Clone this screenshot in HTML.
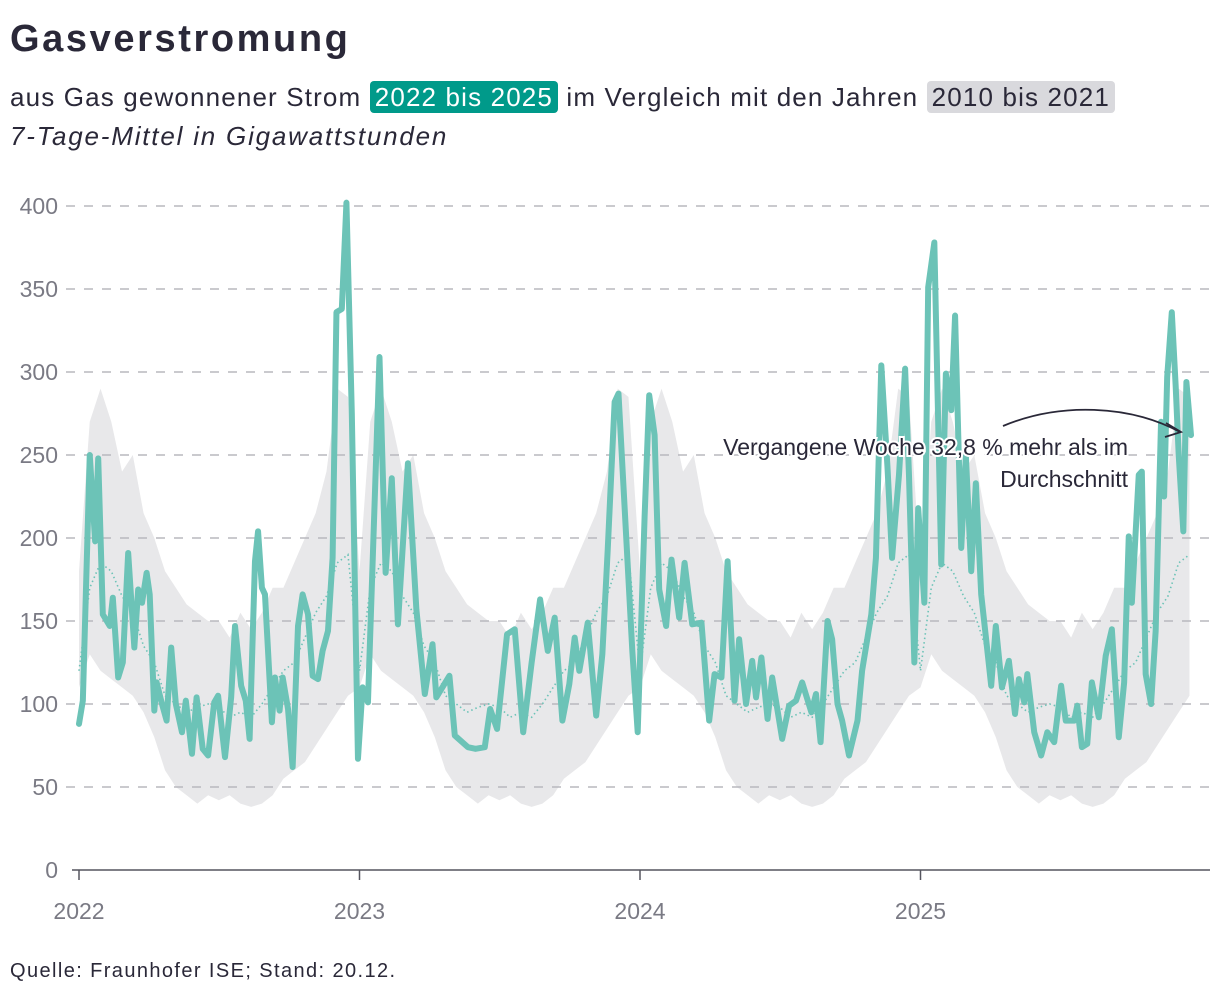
<!DOCTYPE html>
<html><head><meta charset="utf-8">
<style>
body{margin:0;background:#fff;width:1220px;height:1000px;overflow:hidden;font-family:"Liberation Sans",sans-serif;color:#2a2838}
#title{position:absolute;left:10px;top:18px;font-size:38px;font-weight:bold;letter-spacing:2.6px}
#sub{position:absolute;left:10px;top:82px;font-size:26px;letter-spacing:1.15px;white-space:nowrap}
.hl{padding:1px 5px;border-radius:4px}
.teal{background:#009a8a;color:#fff}
.gray{background:#d9d9dd}
#unit{position:absolute;left:10px;top:121px;font-size:26px;font-style:italic;letter-spacing:1.8px}
#foot{position:absolute;left:10px;top:960px;font-size:20px;letter-spacing:1.4px}
svg{position:absolute;left:0;top:0}
</style></head><body>
<div id="title">Gasverstromung</div>
<div id="sub">aus Gas gewonnener Strom <span class="hl teal">2022 bis 2025</span> im Vergleich mit den Jahren <span class="hl gray">2010 bis 2021</span></div>
<div id="unit">7-Tage-Mittel in Gigawattstunden</div>
<div id="foot">Quelle: Fraunhofer ISE; Stand: 20.12.</div>
<svg id="chart" width="1220" height="1000"></svg>
<script>
// days since 2022-01-01 and values (GWh)
const days=[0,5,14,21,25,31,40,44,51,57,64,72,77,82,88,92,98,101,108,114,120,126,134,139,147,153,161,168,176,181,190,198,203,211,217,222,229,233,238,242,251,255,261,265,272,278,285,291,298,304,311,317,324,330,335,342,348,355,363,369,376,
391,399,407,415,428,439,450,460,465,482,489,506,516,528,535,544,557,567,578,589,600,610,619,629,638,645,651,662,673,681,688,697,702,712,720,727,736,742,749,755,764,771,781,788,798,810,820,827,836,844,853,859,868,876,881,888,896,902,915,924,933,941,953,959,965,974,980,987,993,1002,1013,1019,1031,1037,1044,1052,1058,1067,1075,1080,1087,1092,1100,1105,1113,1122,1128,1135,1140,1148,1154,1161,1167,1174,1187,1193,1201,1210,1218,1223,1230,1234,1243,1252,1260,1269,1278,1284,1295,1299,1305,1312,1318,1327,1336,1344,1353,1360,1366,1370,1379,1383,1388,1395,1401,1408,1412,1416,1422,1427,1431,1437,1441,1447];
const values=[88,102,250,198,248,154,147,164,116,125,191,134,169,161,179,166,96,113,100,90,134,100,83,102,70,104,73,69,101,105,68,104,147,111,102,79,186,204,170,166,89,116,96,116,97,62,147,166,154,117,115,132,144,188,336,338,402,275,67,110,101,
309,179,236,148,245,157,106,136,104,117,81,74,73,74,97,85,142,145,83,125,163,132,152,90,112,140,120,149,93,130,193,282,287,201,132,83,213,286,262,169,147,187,152,185,148,149,90,118,116,186,102,139,100,126,104,128,91,116,79,99,102,113,95,106,77,150,139,100,90,69,90,120,154,188,304,243,188,238,302,238,125,218,161,351,378,184,299,277,334,194,250,180,233,166,111,147,110,126,94,115,101,118,83,69,83,77,111,90,90,99,74,76,113,92,129,145,80,113,201,161,238,240,118,100,144,270,225,297,336,292,250,204,294,262];
// historical 2010-2021 envelope, day of year
const bandDays=[0,14,28,42,56,70,84,98,112,126,140,154,168,182,196,210,224,238,252,266,280,294,308,322,336,350,365];
const bandMax=[180,270,290,270,240,250,215,200,180,170,160,155,150,150,140,155,145,155,170,170,185,200,215,240,290,285,180];
const bandMin=[110,130,120,115,110,105,95,80,60,50,45,40,45,42,45,40,38,40,45,55,60,65,75,85,95,105,110];
const bandAvg=[120,170,185,180,165,155,135,125,105,100,95,98,100,98,92,95,92,100,110,120,125,140,155,165,185,190,120];
const yTicks=[0,50,100,150,200,250,300,350,400];
const xYears=["2022","2023","2024","2025"];
const lastDay=1447;

const svg=document.getElementById('chart');
const NS='http://www.w3.org/2000/svg';
const X=d=>79+d*(280.5/365);
const Y=v=>870-v*1.66;
function mk(t,a){const e=document.createElementNS(NS,t);for(const k in a)e.setAttribute(k,a[k]);svg.appendChild(e);return e;}

// band
let up=[],lo=[],av=[];
for(let yr=0;yr<4;yr++){for(let i=0;i<bandDays.length;i++){const d=yr*365+bandDays[i];if(d>lastDay+6)continue;up.push([X(d),Y(bandMax[i])]);lo.push([X(d),Y(bandMin[i])]);av.push([X(d),Y(bandAvg[i])]);}}
const bandPath='M'+up.map(p=>p.join(',')).join('L')+'L'+lo.reverse().map(p=>p.join(',')).join('L')+'Z';
const band=mk('path',{d:bandPath,fill:'#e8e8ea'});



// grid
yTicks.forEach(v=>{
  if(v>0){const g=mk('line',{x1:66,x2:1210,y1:Y(v),y2:Y(v),stroke:'#b8b8be','stroke-width':1.5,'stroke-dasharray':'9,9'});
  
  }
  const t=mk('text',{x:58,y:Y(v)+8,'text-anchor':'end','font-size':23,fill:'#7a7a84'});
  t.textContent=v;
  
  
});

// avg dotted
const avg=mk('path',{d:'M'+av.map(p=>p.join(',')).join('L'),fill:'none',stroke:'#6cc3b7','stroke-width':1.6,'stroke-dasharray':'1.5,3'});



// main line
const line=mk('path',{d:'M'+days.map((d,i)=>X(d)+','+Y(values[i])).join('L'),fill:'none',stroke:'#6cc3b7','stroke-width':6,'stroke-linejoin':'round','stroke-linecap':'round'});



// x axis
const ax=mk('line',{x1:72,x2:1210,y1:870,y2:870,stroke:'#55555f','stroke-width':1.5});


xYears.forEach((y,i)=>{
  const x=X(i*365);
  const tk=mk('line',{x1:x,x2:x,y1:870,y2:880,stroke:'#55555f','stroke-width':1.5});
  
  
  const t=mk('text',{x:x,y:919,'text-anchor':'middle','font-size':23,fill:'#7a7a84'});
  t.textContent=y;
  
  
});

// annotation
const arr=mk('path',{d:'M1003,426 C1060,402 1130,405 1180,432',fill:'none',stroke:'#2a2838','stroke-width':1.8});


const head=mk('path',{d:'M1166,423 L1181,432 L1165,437',fill:'none',stroke:'#2a2838','stroke-width':1.8});


['Vergangene Woche 32,8 % mehr als im','Durchschnitt'].forEach((s,i)=>{
  const t=mk('text',{x:1128,y:455+i*32,'text-anchor':'end','font-size':23,fill:'#2a2838',stroke:'#fff','stroke-width':4,'paint-order':'stroke'});
  t.textContent=s;
  
  
});
</script>
</body></html>
